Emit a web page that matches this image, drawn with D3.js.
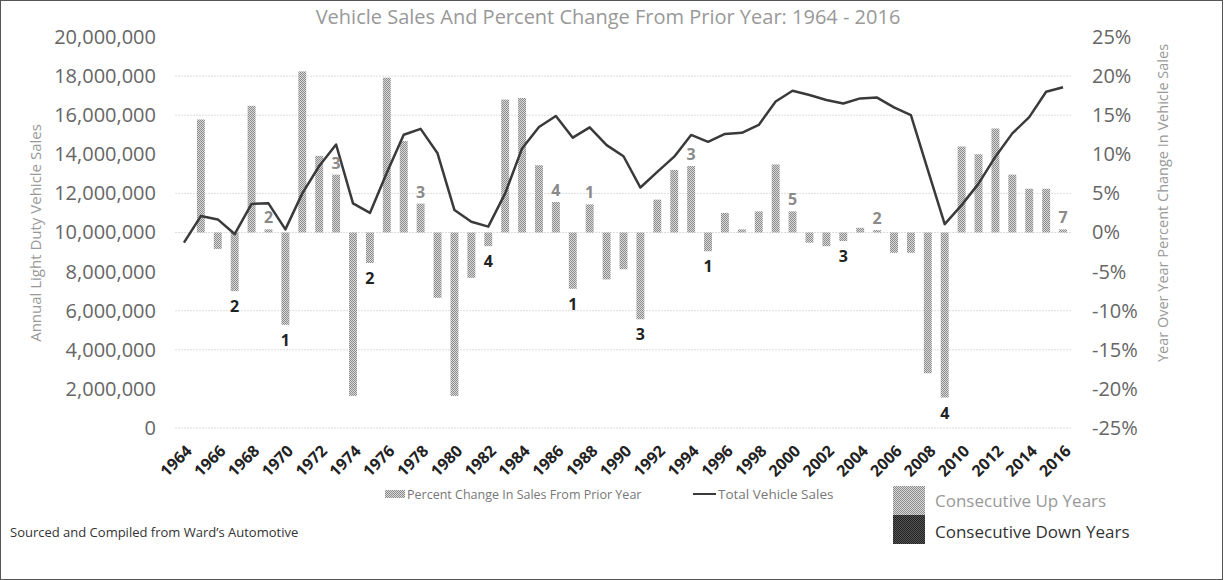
<!DOCTYPE html>
<html>
<head>
<meta charset="utf-8">
<script src="https://cdn.jsdelivr.net/npm/d3@7"></script>
<style>
  body { margin: 0; background: #fff; }
  text { font-family: 'Open Sans', 'Noto Sans', sans-serif; }
</style>
</head>
<body>
<div id="chart"></div>
<script>
  // categories
  var years = [1964, 1965, 1966, 1967, 1968, 1969, 1970, 1971, 1972, 1973, 1974, 1975, 1976, 1977,
    1978, 1979, 1980, 1981, 1982, 1983, 1984, 1985, 1986, 1987, 1988, 1989, 1990, 1991,
    1992, 1993, 1994, 1995, 1996, 1997, 1998, 1999, 2000, 2001, 2002, 2003, 2004, 2005,
    2006, 2007, 2008, 2009, 2010, 2011, 2012, 2013, 2014, 2015, 2016];

  // total light vehicle sales, millions
  var sales = [9.48, 10.84, 10.67, 9.92, 11.46, 11.49, 10.16, 12.0, 13.4, 14.5, 11.49, 11.0, 13.06, 15.0,
    15.3, 14.05, 11.15, 10.55, 10.3, 12.0, 14.3, 15.4, 15.96, 14.85, 15.38, 14.47, 13.9, 12.3,
    13.1, 13.88, 14.99, 14.64, 15.04, 15.1, 15.5, 16.7, 17.25, 17.03, 16.78, 16.6, 16.86, 16.9,
    16.4, 16.0, 13.2, 10.43, 11.4, 12.5, 13.88, 15.07, 15.9, 17.2, 17.43];

  // percent change from prior year
  var pctChange = [null, 14.45, -2.1, -7.5, 16.2, 0.4, -11.8, 20.6, 9.8, 7.4, -20.9, -3.9, 19.8, 11.7,
    3.7, -8.35, -20.9, -5.8, -1.75, 17.0, 17.2, 8.6, 3.9, -7.2, 3.6, -6.0, -4.7, -11.1,
    4.2, 8.0, 8.5, -2.4, 2.5, 0.4, 2.7, 8.7, 2.7, -1.3, -1.75, -1.1, 0.6, 0.3,
    -2.6, -2.6, -18.0, -21.1, 11.0, 10.0, 13.3, 7.4, 5.6, 5.6, 0.4];

  // streak annotations: last year of a run and its length
  var streakYears = [1967, 1969, 1970, 1973, 1975, 1978, 1982, 1986, 1987, 1988, 1991, 1994, 1995, 2000, 2003, 2005, 2009, 2016];
  var streakCounts = [2, 2, 1, 3, 2, 3, 4, 4, 1, 1, 3, 3, 1, 5, 3, 2, 4, 7];

  // axis ticks
  var leftTicks = [0, 2, 4, 6, 8, 10, 12, 14, 16, 18, 20];
  var rightTicks = [-25, -20, -15, -10, -5, 0, 5, 10, 15, 20, 25];
  var gridTicks = [0, 4, 6, 10, 12, 16, 18];

;(function() {
  'use strict';

  var yearLabels = years.filter(function(d, i) { return i % 2 === 0; });

  var width = 1225, height = 580;
  var plotTop = 37, plotBottom = 428, plotLeft = 175.5, plotRight = 1071.5;

  var svg = d3.select('#chart').append('svg')
    .attr('width', width)
    .attr('height', height);

  var defs = svg.append('defs');
  function checker(id, dark, light) {
    var p = defs.append('pattern')
      .attr('id', id)
      .attr('width', 2).attr('height', 2)
      .attr('patternUnits', 'userSpaceOnUse');
    p.append('rect').attr('width', 2).attr('height', 2).attr('fill', light);
    p.append('rect').attr('width', 1).attr('height', 1).attr('fill', dark);
    p.append('rect').attr('x', 1).attr('y', 1).attr('width', 1).attr('height', 1).attr('fill', dark);
  }
  checker('upFill', '#8c8c8c', '#d9d9d9');
  checker('downFill', '#222', '#555');

  svg.append('rect')
    .attr('x', 0.5).attr('y', 0.5)
    .attr('width', width - 3).attr('height', height - 1)
    .attr('fill', 'none')
    .attr('stroke', '#555');

  var x = d3.scaleBand().domain(years).range([plotLeft, plotRight]);
  var yL = d3.scaleLinear().domain([0, 20]).range([plotBottom, plotTop]);
  var yR = d3.scaleLinear().domain([-25, 25]).range([plotBottom, plotTop]);
  var cx = function(yr) { return x(yr) + x.bandwidth() / 2; };
  var bw = x.bandwidth() * 0.47;

  /* ------- GRID ------- */
  svg.append('g').selectAll('line')
    .data(gridTicks)
    .enter().append('line')
    .attr('x1', plotLeft).attr('x2', plotRight)
    .attr('y1', function(d) { return yL(d); })
    .attr('y2', function(d) { return yL(d); })
    .attr('stroke', '#bbb')
    .attr('stroke-dasharray', '1,2');

  /* ------- AXES ------- */
  var leftAxis = svg.append('g')
    .attr('transform', 'translate(156,0)')
    .call(d3.axisLeft(yL).tickValues(leftTicks).tickSize(0).tickPadding(0)
      .tickFormat(function(d) { return d3.format(',')(d * 1e6); }));
  var rightAxis = svg.append('g')
    .attr('transform', 'translate(1092,0)')
    .call(d3.axisRight(yR).tickValues(rightTicks).tickSize(0).tickPadding(0)
      .tickFormat(function(d) { return d + '%'; }));
  [leftAxis, rightAxis].forEach(function(a) {
    a.select('.domain').remove();
    a.selectAll('text')
      .attr('font-family', "'Open Sans', sans-serif")
      .attr('font-size', 20)
      .attr('fill', '#666');
  });

  svg.append('g').selectAll('text')
    .data(yearLabels)
    .enter().append('text')
    .attr('transform', function(d) { return 'translate(' + (cx(d) + 1) + ',444) rotate(-45)'; })
    .attr('text-anchor', 'end')
    .attr('dy', '0.7em')
    .attr('font-size', 16)
    .attr('font-weight', 'bold')
    .attr('fill', '#222')
    .text(function(d) { return d; });

  /* ------- BARS ------- */
  var barData = years.map(function(yr, i) { return { year: yr, pct: pctChange[i] }; })
    .filter(function(d) { return d.pct !== null; });

  svg.append('g').selectAll('rect')
    .data(barData)
    .enter().append('rect')
    .attr('x', function(d) { return cx(d.year) - bw / 2; })
    .attr('width', bw)
    .attr('y', function(d) { return yR(Math.max(0, d.pct)); })
    .attr('height', function(d) { return Math.abs(yR(d.pct) - yR(0)); })
    .attr('fill', 'url(#upFill)');

  /* ------- LINE ------- */
  var line = d3.line()
    .x(function(d, i) { return cx(years[i]); })
    .y(function(d) { return yL(d); });

  svg.append('path')
    .datum(sales)
    .attr('d', line)
    .attr('fill', 'none')
    .attr('stroke', '#3a3a3a')
    .attr('stroke-width', 2.5)
    .attr('stroke-linejoin', 'round');

  /* ------- STREAK LABELS ------- */
  svg.append('g').selectAll('text')
    .data(streakYears)
    .enter().append('text')
    .attr('x', function(d) { return cx(d); })
    .attr('y', function(d) {
      var p = pctChange[years.indexOf(d)];
      return p >= 0 ? yR(p) - 12 : yR(p) + 15;
    })
    .attr('text-anchor', 'middle')
    .attr('dominant-baseline', 'central')
    .attr('font-size', 16)
    .attr('font-weight', 'bold')
    .attr('fill', function(d) { return pctChange[years.indexOf(d)] >= 0 ? '#8a8a8a' : '#222'; })
    .text(function(d, i) { return streakCounts[i]; });

  /* ------- TITLES ------- */
  svg.append('text')
    .attr('x', 608).attr('y', 24)
    .attr('text-anchor', 'middle')
    .attr('font-size', 20)
    .attr('fill', '#999')
    .text('Vehicle Sales And Percent Change From Prior Year: 1964 - 2016');

  svg.append('text')
    .attr('transform', 'translate(41,233) rotate(-90)')
    .attr('text-anchor', 'middle')
    .attr('font-size', 15)
    .attr('fill', '#999')
    .text('Annual Light Duty Vehicle Sales');

  svg.append('text')
    .attr('transform', 'translate(1168,203) rotate(-90)')
    .attr('text-anchor', 'middle')
    .attr('font-size', 14.5)
    .attr('fill', '#999')
    .text('Year Over Year Percent Change In Vehicle Sales');

  /* ------- LEGEND ------- */
  var lg = svg.append('g').attr('font-size', 12.5).attr('fill', '#777');
  lg.append('rect').attr('x', 385).attr('y', 490).attr('width', 20).attr('height', 8).attr('fill', 'url(#upFill)');
  lg.append('text').attr('x', 407).attr('y', 499).text('Percent Change In Sales From Prior Year');
  lg.append('line').attr('x1', 693).attr('x2', 716).attr('y1', 494).attr('y2', 494)
    .attr('stroke', '#3a3a3a').attr('stroke-width', 2);
  lg.append('text').attr('x', 718).attr('y', 499).attr('font-size', 13.5).text('Total Vehicle Sales');

  svg.append('rect').attr('x', 893).attr('y', 486).attr('width', 32).attr('height', 29).attr('fill', 'url(#upFill)');
  svg.append('rect').attr('x', 893).attr('y', 515).attr('width', 32).attr('height', 29).attr('fill', 'url(#downFill)');
  svg.append('text').attr('x', 935).attr('y', 507).attr('font-size', 17).attr('fill', '#999').text('Consecutive Up Years');
  svg.append('text').attr('x', 935).attr('y', 538).attr('font-size', 17).attr('fill', '#333').text('Consecutive Down Years');

  svg.append('text')
    .attr('x', 10).attr('y', 537)
    .attr('font-size', 13)
    .attr('fill', '#333')
    .text('Sourced and Compiled from Ward\u2019s Automotive');
})();
</script>
</body>
</html>
